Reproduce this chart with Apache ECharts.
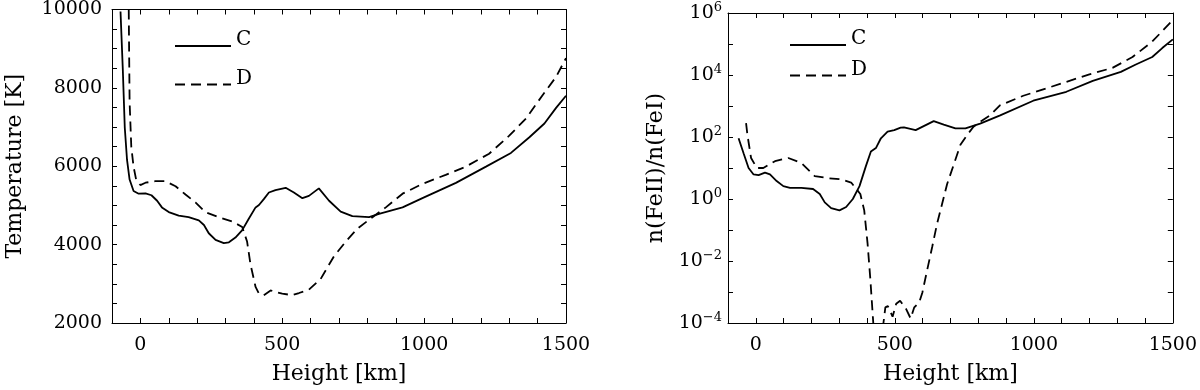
<!DOCTYPE html>
<html>
<head>
<meta charset="utf-8">
<script src="https://cdn.jsdelivr.net/npm/echarts@6/dist/echarts.min.js"></script>
<style>
  html, body { margin: 0; padding: 0; background: #fff; }
  #chart { width: 1200px; height: 390px; }
</style>
</head>
<body>
<div id="chart"></div>
<script>
// left panel: temperature vs height
const heightTC = [-70, -62, -55, -47, -38, -24, -6, 18, 39, 59, 76, 100, 135, 170, 206, 224, 241, 265, 294, 312, 335, 359, 382, 406, 418, 435, 453, 476, 512, 541, 571, 594, 629, 665, 706, 747, 806, 841, 924, 994, 1112, 1218, 1306, 1371, 1424, 1465, 1500];
const tempC = [9950, 8490, 6990, 6160, 5660, 5370, 5300, 5310, 5260, 5120, 4950, 4830, 4740, 4700, 4620, 4500, 4290, 4120, 4040, 4060, 4180, 4370, 4660, 4950, 5010, 5160, 5330, 5390, 5450, 5330, 5185, 5244, 5435, 5120, 4844, 4727, 4700, 4785, 4950, 5185, 5576, 5990, 6340, 6740, 7090, 7490, 7800];
const heightTD = [-41, -38, -32, -24, -15, 0, 18, 53, 88, 124, 159, 194, 229, 276, 324, 359, 376, 388, 406, 418, 435, 459, 476, 500, 535, 559, 594, 635, 682, 724, 765, 818, 865, 924, 994, 1076, 1147, 1229, 1300, 1359, 1418, 1465, 1500];
const tempD = [10000, 7650, 6490, 5990, 5660, 5520, 5580, 5620, 5620, 5490, 5280, 5080, 4830, 4700, 4590, 4450, 4080, 3500, 2920, 2750, 2710, 2830, 2790, 2750, 2710, 2765, 2850, 3120, 3700, 4080, 4410, 4700, 4950, 5300, 5550, 5780, 5990, 6320, 6780, 7220, 7820, 8280, 8760];

// right panel: n(FeII)/n(FeI) vs height
const heightRC = [-62, -44, -26, -8, 10, 33, 51, 75, 99, 123, 164, 206, 230, 248, 271, 301, 325, 349, 373, 396, 414, 432, 450, 474, 498, 521, 533, 575, 640, 676, 718, 754, 807, 879, 998, 1117, 1212, 1313, 1367, 1426, 1462, 1500];
const ratioC = [91, 30, 10, 6.2, 5.9, 7.1, 6.2, 3.8, 2.6, 2.3, 2.3, 2.1, 1.45, 0.78, 0.51, 0.43, 0.55, 1.0, 2.6, 11.5, 34, 44, 91, 148, 166, 200, 204, 166, 324, 251, 190, 190, 270, 500, 1480, 2880, 6460, 12600, 21900, 38000, 74000, 141000];
const heightRD = [-35, -30, -17, 4, 27, 69, 117, 164, 212, 260, 307, 343, 376, 390, 402, 412, 420, 430, 455, 466, 475, 492, 505, 519, 540, 557, 570, 588, 599, 617, 635, 652, 670, 688, 712, 736, 760, 783, 807, 843, 878, 962, 1045, 1117, 1200, 1283, 1355, 1426, 1500];
const ratioD = [280, 115, 21, 10, 10, 16.6, 21, 14.5, 5.5, 4.7, 4.3, 3.4, 1.45, 0.43, 0.037, 0.0026, 2.2e-4, 1e-5, 5e-5, 3.2e-4, 3.5e-4, 1.6e-4, 4.2e-4, 5.2e-4, 2.9e-4, 1.4e-4, 3.2e-4, 4.7e-4, 9.5e-4, 5.4e-3, 0.03, 0.16, 0.69, 3.0, 12.9, 56, 115, 214, 309, 500, 1050, 2140, 3700, 6000, 10500, 17000, 38000, 120000, 590000];

const FONT = "DejaVu Serif";
const pair = (xs, ys) => xs.map((x, i) => [x, ys[i]]);

function heightAxis(grid, pos, labels) {
    return {
        type: "value", gridIndex: grid, position: pos,
        min: -100, max: 1500, interval: 100,
        name: labels ? "Height [km]" : "",
        nameLocation: "middle", nameGap: 40,
        nameTextStyle: { fontFamily: FONT, fontSize: 22, color: "#000" },
        axisLine: { onZero: false, lineStyle: { color: "#000", width: 1 } },
        axisTick: { inside: true, length: 5, lineStyle: { color: "#000" } },
        axisLabel: {
            show: labels, margin: 13, fontFamily: FONT, fontSize: 19, color: "#000",
            formatter: v => (v % 500 === 0 ? String(v) : "")
        },
        splitLine: { show: false }
    };
}

function tempAxis(pos, labels) {
    return {
        type: "value", gridIndex: 0, position: pos,
        min: 2000, max: 10000, interval: 500,
        name: labels ? "Temperature [K]" : "",
        nameLocation: "middle", nameGap: 86, nameRotate: 90,
        nameTextStyle: { fontFamily: FONT, fontSize: 22, color: "#000" },
        axisLine: { onZero: false, lineStyle: { color: "#000", width: 1 } },
        axisTick: { inside: true, length: 5, lineStyle: { color: "#000" } },
        axisLabel: {
            show: labels, margin: 10, fontFamily: FONT, fontSize: 19, color: "#000",
            formatter: v => (v % 2000 === 0 ? String(v) : "")
        },
        splitLine: { show: false }
    };
}

function ratioAxis(pos, labels) {
    return {
        type: "log", logBase: 10, gridIndex: 1, position: pos,
        min: 1e-4, max: 1e6, splitNumber: 10,
        name: labels ? "n(FeII)/n(FeI)" : "",
        nameLocation: "middle", nameGap: 61, nameRotate: 90,
        nameTextStyle: { fontFamily: FONT, fontSize: 22, color: "#000" },
        axisLine: { onZero: false, lineStyle: { color: "#000", width: 1 } },
        axisTick: { inside: true, length: 5, lineStyle: { color: "#000" } },
        axisLabel: {
            show: labels, margin: 6, color: "#000",
            formatter: function (v) {
                const e = Math.round(Math.log10(v));
                if (e % 2 !== 0) return "";
                return "{b|10}{s|" + (e < 0 ? "\u2212" + (-e) : e) + "}";
            },
            rich: {
                b: { fontFamily: FONT, fontSize: 19, lineHeight: 24, color: "#000" },
                s: { fontFamily: FONT, fontSize: 13, lineHeight: 13, verticalAlign: "top", color: "#000" }
            }
        },
        splitLine: { show: false }
    };
}

function curve(name, xi, yi, data, dashed) {
    return {
        name: name, type: "line", xAxisIndex: xi, yAxisIndex: yi,
        data: data, symbol: "none", showSymbol: false, clip: true,
        lineStyle: { color: "#000", width: 1.8, type: dashed ? [10, 6] : "solid" },
        itemStyle: { color: "#000" },
        emphasis: { disabled: true }
    };
}

function legend(left, top, gap) {
    return {
        orient: "vertical", left: left, top: top,
        itemWidth: 56, itemHeight: 14, itemGap: gap,
        data: ["C", "D"], selectedMode: false,
        itemStyle: { opacity: 0 },
        formatter: name => "{t|" + name + "}",
        textStyle: {
            rich: { t: { fontFamily: FONT, fontSize: 20, color: "#000", padding: [0, 0, 12, 0] } }
        }
    };
}

const chart = echarts.init(document.getElementById("chart"));
chart.setOption({
    animation: false,
    backgroundColor: "#fff",
    grid: [
        { left: 112, top: 6, width: 454, height: 321 },
        { left: 728, top: 13, width: 446, height: 315 }
    ],
    xAxis: [
        heightAxis(0, "bottom", true),
        heightAxis(0, "top", false),
        heightAxis(1, "bottom", true),
        heightAxis(1, "top", false)
    ],
    yAxis: [
        tempAxis("left", true),
        tempAxis("right", false),
        ratioAxis("left", true),
        ratioAxis("right", false)
    ],
    legend: [legend(169, 25, 17), legend(784, 24, 9)],
    series: [
        curve("C", 0, 0, pair(heightTC, tempC), false),
        curve("D", 0, 0, pair(heightTD, tempD), true),
        curve("C", 2, 2, pair(heightRC, ratioC), false),
        curve("D", 2, 2, pair(heightRD, ratioD), true)
    ]
});
</script>
</body>
</html>
